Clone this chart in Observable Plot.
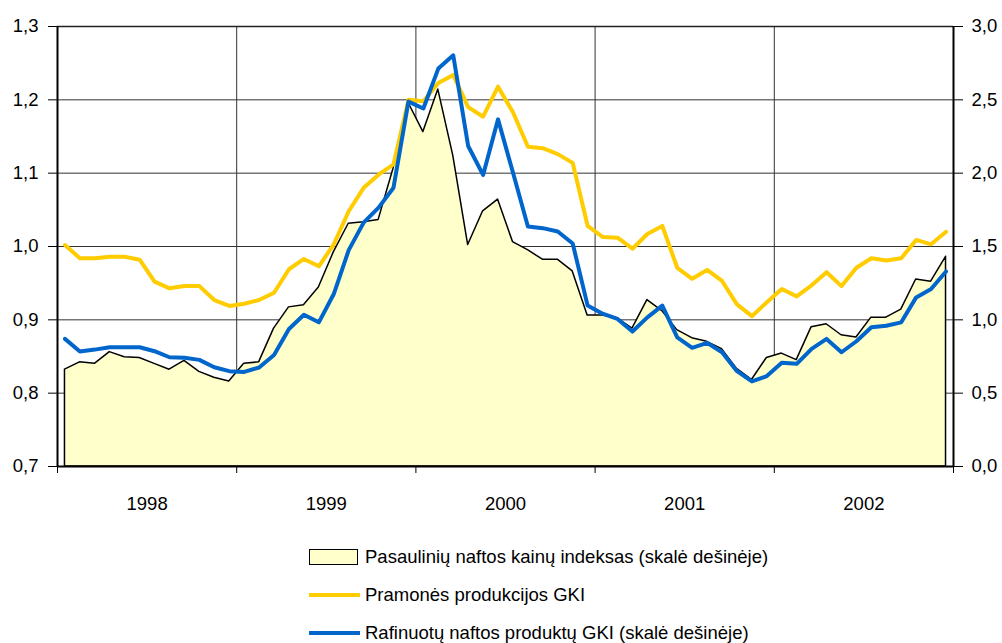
<!DOCTYPE html>
<html>
<head>
<meta charset="utf-8">
<script src="https://cdn.jsdelivr.net/npm/d3@7"></script>
<script src="https://cdn.jsdelivr.net/npm/@observablehq/plot@0.6"></script>
<style>
  html, body { margin: 0; padding: 0; background: #fff; }
  #wrap { position: relative; width: 1002px; height: 643px; font-family: "Liberation Sans", Arial, sans-serif; color: #000; }
  #chart { position: absolute; left: 0; top: 0; }
  .lg-text { position: absolute; left: 365px; font-size: 18.5px; line-height: 22px; white-space: nowrap; }
  .lg-sw { position: absolute; }
</style>
</head>
<body>
<div id="wrap">
  <div id="chart"></div>
  <div id="legend"></div>
</div>
<script>
// ---- Data (monthly, Jan 1998 – Dec 2002) ----
const years = ["1998", "1999", "2000", "2001", "2002"];
const monthsPerYear = 12;

// Pasaulinių naftos kainų indeksas (right scale)
const oilPrice = [
  0.66, 0.71, 0.70, 0.78, 0.745, 0.74, 0.70, 0.66, 0.72, 0.645, 0.605, 0.58,
  0.70, 0.71, 0.94, 1.085, 1.10, 1.22, 1.46, 1.655, 1.665, 1.68, 2.03, 2.48,
  2.28, 2.57, 2.12, 1.51, 1.74, 1.82, 1.53, 1.475, 1.41, 1.41, 1.33, 1.03,
  1.03, 1.01, 0.94, 1.135, 1.06, 0.93, 0.875, 0.85, 0.80, 0.665, 0.59, 0.74,
  0.77, 0.725, 0.95, 0.97, 0.895, 0.88, 1.015, 1.015, 1.07, 1.275, 1.26, 1.43
];

// Pramonės produkcijos GKI (left scale)
const industrialPPI = [
  1.002, 0.984, 0.984, 0.986, 0.986, 0.982, 0.952, 0.943, 0.946, 0.946, 0.927, 0.919,
  0.922, 0.927, 0.937, 0.969, 0.983, 0.973, 1.003, 1.048, 1.080, 1.098, 1.112, 1.200,
  1.198, 1.223, 1.234, 1.190, 1.177, 1.218, 1.183, 1.136, 1.134, 1.126, 1.114, 1.028,
  1.013, 1.012, 0.997, 1.017, 1.028, 0.971, 0.956, 0.968, 0.953, 0.921, 0.905, 0.924,
  0.942, 0.932, 0.947, 0.965, 0.946, 0.971, 0.984, 0.981, 0.984, 1.009, 1.003, 1.020
];

// Rafinuotų naftos produktų GKI (right scale)
const refinedPPI = [
  0.870, 0.784, 0.797, 0.813, 0.813, 0.813, 0.786, 0.745, 0.741, 0.727, 0.677, 0.650,
  0.645, 0.675, 0.760, 0.938, 1.035, 0.983, 1.176, 1.475, 1.663, 1.765, 1.901, 2.488,
  2.441, 2.713, 2.804, 2.185, 1.988, 2.367, 2.004, 1.636, 1.625, 1.602, 1.520, 1.097,
  1.042, 1.006, 0.920, 1.017, 1.097, 0.881, 0.809, 0.843, 0.779, 0.650, 0.580, 0.617,
  0.708, 0.700, 0.802, 0.870, 0.779, 0.854, 0.949, 0.960, 0.983, 1.153, 1.210, 1.330
];

const leftTicks = [0.7, 0.8, 0.9, 1.0, 1.1, 1.2, 1.3];
const rightTicks = [0.0, 0.5, 1.0, 1.5, 2.0, 2.5, 3.0];

const legendLabels = [
  "Pasaulinių naftos kainų indeksas (skalė dešinėje)",
  "Pramonės produkcijos GKI",
  "Rafinuotų naftos produktų GKI (skalė dešinėje)"
];

// ---- Helpers ----
const fmt = d => d3.format(".1f")(d).replace(".", ",");
// map right-axis values (0..3) onto left-axis units (0.7..1.3)
const toLeft = r => 0.7 + r * 0.2;
const fromLeft = l => (l - 0.7) / 0.2;

const nMonths = years.length * monthsPerYear;
const rows = oilPrice.map((v, i) => ({
  m: i + 0.5,
  oil: toLeft(v),
  ind: industrialPPI[i],
  ref: toLeft(refinedPPI[i])
}));
const yearBounds = d3.range(years.length + 1).map(k => k * monthsPerYear);
const yearCenters = years.map((y, k) => k * monthsPerYear + monthsPerYear / 2);

const chart = Plot.plot({
  width: 1002,
  height: 520,
  marginLeft: 57,
  marginRight: 49,
  marginTop: 26,
  marginBottom: 54,
  style: { fontFamily: '"Liberation Sans", Arial, sans-serif', fontSize: "18.5px", color: "#000", background: "transparent" },
  x: { domain: [0, nMonths], axis: null },
  y: { domain: [0.7, 1.3], axis: null },
  marks: [
    Plot.gridY(leftTicks.slice(1, -1), { stroke: "#333", strokeOpacity: 1, strokeWidth: 1 }),
    Plot.gridX(yearBounds.slice(1, -1), { stroke: "#333", strokeOpacity: 1, strokeWidth: 1 }),
    Plot.areaY(rows, { x: "m", y1: 0.7, y2: "oil", fill: "#FFFFCC", stroke: "#000", strokeWidth: 1.5 }),
    Plot.line(rows, { x: "m", y: "ind", stroke: "#FFCC00", strokeWidth: 4 }),
    Plot.line(rows, { x: "m", y: "ref", stroke: "#0066CC", strokeWidth: 4 }),
    Plot.ruleY([1.3], { stroke: "#222", strokeWidth: 1.5 }),
    Plot.axisY({ anchor: "left", ticks: leftTicks, tickFormat: fmt, tickSize: 9, tickPadding: 10, label: null }),
    Plot.axisY({ anchor: "right", ticks: rightTicks.map(toLeft), tickFormat: d => fmt(fromLeft(d)), tickSize: 9, tickPadding: 9, label: null }),
    Plot.axisX({ ticks: yearBounds, tickSize: 7, tickFormat: () => "", label: null }),
    Plot.axisX({ ticks: yearCenters, tickSize: 0, tickPadding: 30, tickFormat: d => years[Math.floor(d / monthsPerYear)], label: null }),
    Plot.ruleX([0], { stroke: "#000", strokeWidth: 2 }),
    Plot.ruleX([nMonths], { stroke: "#000", strokeWidth: 2 }),
    Plot.ruleY([0.7], { stroke: "#000", strokeWidth: 2 })
  ]
});
document.getElementById("chart").appendChild(chart);

// ---- Legend (HTML, below the SVG) ----
const legend = document.getElementById("legend");
const rowsY = [557, 595, 633];
const swatches = [
  `<div class="lg-sw" style="left:309px;top:${rowsY[0] - 8}px;width:47px;height:14px;background:#FFFFCC;border:1.5px solid #000;"></div>`,
  `<div class="lg-sw" style="left:309px;top:${rowsY[1] - 2}px;width:51px;height:4px;background:#FFCC00;"></div>`,
  `<div class="lg-sw" style="left:309px;top:${rowsY[2] - 2}px;width:51px;height:4px;background:#0066CC;"></div>`
];
legend.innerHTML = legendLabels.map((t, i) =>
  swatches[i] + `<div class="lg-text" style="top:${rowsY[i] - 11}px">${t}</div>`
).join("");
</script>
</body>
</html>
